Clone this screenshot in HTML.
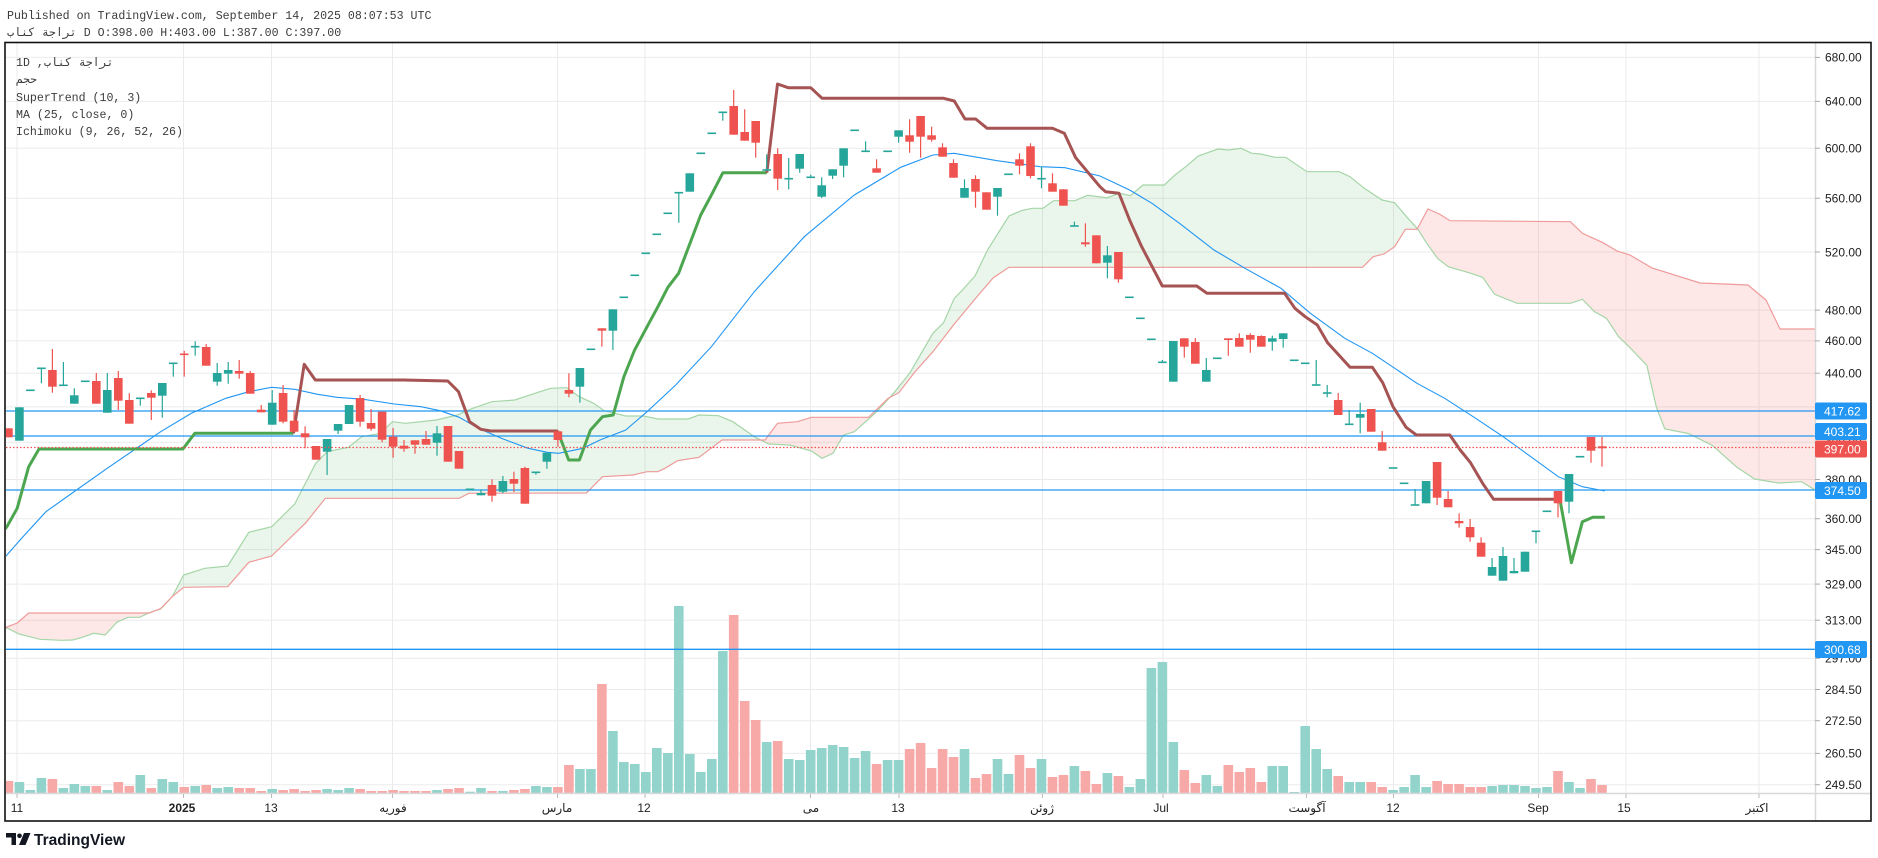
<!DOCTYPE html>
<html><head><meta charset="utf-8">
<style>
html,body{margin:0;padding:0;background:#fff;width:1878px;height:858px;overflow:hidden}
svg{display:block}
.mono{font-family:"Liberation Mono","DejaVu Sans Mono","DejaVu Sans",monospace;font-size:11.6px;fill:#3c3c3c}
.ax{font-family:"Liberation Sans","DejaVu Sans",sans-serif;font-size:12px;fill:#222}
.bx{font-family:"Liberation Sans","DejaVu Sans",sans-serif;font-size:12px;fill:#fff}
</style></head><body>
<svg id="s" width="1878" height="858" viewBox="0 0 1878 858" xmlns="http://www.w3.org/2000/svg">
<defs><clipPath id="pc"><rect x="6" y="43" width="1809" height="750"/></clipPath></defs>
<rect width="1878" height="858" fill="#fff"/>
<g id="grid" stroke="#ebebec" stroke-width="1"></g>
<g id="dyn" clip-path="url(#pc)"></g>
<!-- axes -->
<line x1="1815.5" y1="42" x2="1815.5" y2="821" stroke="#d9d9d9" stroke-width="1.5"/>
<line x1="5" y1="793.5" x2="1871" y2="793.5" stroke="#d9d9d9" stroke-width="1.5"/>
<g id="pax"></g>
<g class="ax" text-anchor="middle">
<text x="17" y="812">11</text>
<text x="182" y="812" font-weight="bold">2025</text>
<text x="271" y="812">13</text>
<text x="393" y="812">فوريه</text>
<text x="557" y="812">مارس</text>
<text x="644" y="812">12</text>
<text x="811" y="812">مى</text>
<text x="898" y="812">13</text>
<text x="1042" y="812">ژوئن</text>
<text x="1161" y="812">Jul</text>
<text x="1307" y="812">آگوست</text>
<text x="1393" y="812">12</text>
<text x="1538" y="812">Sep</text>
<text x="1624" y="812">15</text>
<text x="1757" y="812">اکتبر</text>
</g>
<g id="boxes">
<rect x="1815" y="402.5" width="52" height="17" rx="2" fill="#2196f3"/>
<text class="bx" x="1824" y="415.5">417.62</text>
<rect x="1815" y="423" width="52" height="17" rx="2" fill="#2196f3"/>
<text class="bx" x="1824" y="436">403.21</text>
<rect x="1815" y="440.5" width="52" height="17" rx="2" fill="#ef5350"/>
<text class="bx" x="1824" y="453.5">397.00</text>
<rect x="1815" y="482" width="52" height="17" rx="2" fill="#2196f3"/>
<text class="bx" x="1824" y="495">374.50</text>
<rect x="1815" y="641" width="52" height="17" rx="2" fill="#2196f3"/>
<text class="bx" x="1824" y="654">300.68</text>
</g>
<rect x="5" y="42.5" width="1866" height="778.5" fill="none" stroke="#111" stroke-width="1.6"/>
<text class="mono" x="7" y="19">Published on TradingView.com, September 14, 2025 08:07:53 UTC</text>
<text class="mono" x="7" y="36">تراجة كناب D O:398.00 H:403.00 L:387.00 C:397.00</text>
<text class="mono" x="16" y="66">1D ,تراجة كناب</text>
<text class="mono" x="16" y="83">حجم</text>
<text class="mono" x="16" y="101">SuperTrend (10, 3)</text>
<text class="mono" x="16" y="118">MA (25, close, 0)</text>
<text class="mono" x="16" y="135">Ichimoku (9, 26, 52, 26)</text>
<g fill="#131722">
<path d="M6 833 h10 v12 h-4.5 v-7.5 h-5.5z"/>
<circle cx="19.5" cy="835.8" r="2.3"/>
<path d="M24 833 h6.5 l-5 12 h-6.5z"/>
</g>
<text x="34" y="845" font-family="Liberation Sans, DejaVu Sans, sans-serif" font-size="15.5" font-weight="bold" fill="#131722">TradingView</text>
</svg>
<script>
(function(){
var ticks=[[680,57.4],[640,101.4],[600,148.2],[560,198.2],[520,252],[480,310.1],[460,340.9],[440,373.2],[420,406.9],[400,442.3],[380,479.5],[360,518.7],[345,549.6],[329,584.1],[313,620.2],[297,658.3],[284.5,689.5],[272.5,720.7],[260.5,753.4],[249.5,784.7]];
var vx=[17,183.5,271.5,392.5,557.5,645,810.5,899,1042.5,1163,1306.5,1393.5,1538.5,1626,1759];
var g='';
ticks.forEach(function(t){g+='<line x1="6" y1="'+t[1]+'" x2="1815" y2="'+t[1]+'"/>';});
vx.forEach(function(x){g+='<line x1="'+x+'" y1="43" x2="'+x+'" y2="793"/>';});
document.getElementById('grid').innerHTML=g;
var p='';
ticks.forEach(function(t){p+='<line x1="1815" y1="'+t[1]+'" x2="1820" y2="'+t[1]+'" stroke="#aaa"/>'+
 '<text class="ax" x="1825" y="'+(t[1]+4.3)+'">'+t[0].toFixed(2)+'</text>';});
vx.forEach(function(x){p+='<line x1="'+x+'" y1="794" x2="'+x+'" y2="798" stroke="#bbb"/>';});
document.getElementById('pax').innerHTML=p;

function X(i){return 8.4+10.99*i;}
function path(a){return 'M'+a.map(function(q){return q[0].toFixed(1)+' '+q[1].toFixed(1);}).join('L');}
function interp(a,x){if(x<=a[0][0])return a[0][1];for(var k=1;k<a.length;k++){if(x<=a[k][0]){var t=(x-a[k-1][0])/(a[k][0]-a[k-1][0]);return a[k-1][1]+t*(a[k][1]-a[k-1][1]);}}return a[a.length-1][1];}

var A=[[5,628],[7.7,628.3],[19.1,634],[40.2,639.3],[61.2,640.3],[72.7,640],[82.3,637.3],[93.8,633.3],[105.2,635],[116.7,622.3],[128.2,617.3],[139.7,617.3],[149.3,612.7],[160.7,609],[172.2,596.7],[183.7,575],[204.7,568.3],[227.7,566],[248.8,532.3],[271.7,526.7],[294.7,504],[315.7,463.3],[327.2,451.7],[348.3,447.3],[361.7,436.7],[380.8,433.3],[392.3,421.7],[405.7,423.3],[436.3,420],[457.3,415],[470.7,409],[491.8,401.7],[514.7,400],[540,391.7],[550.7,388.3],[566.8,387.7],[579.3,396.7],[593.6,403.3],[604.3,410.7],[625.7,416],[643.6,416],[657.9,419],[688.2,419],[699,415],[718.6,415.7],[732.9,421.7],[754.3,436.7],[768.6,444],[790,445],[811.4,451],[822.1,458.3],[832.9,453.3],[843.6,435],[854.3,431.7],[875.7,412.7],[893.6,393.3],[909.6,373.3],[932.9,333.3],[943.6,322.7],[954.3,298.3],[962.5,290],[975,276],[987.5,250],[1008.9,216],[1021.4,210.7],[1032,208.3],[1042.9,208.3],[1053.6,200.7],[1075,200.7],[1087.5,195.3],[1107,197.7],[1119.6,193.3],[1130.4,195.7],[1142.9,185],[1164.3,185],[1175,175],[1185.7,166.7],[1198.2,156],[1217.9,149],[1228.6,150],[1241,148.3],[1251.8,153.3],[1260.7,154],[1275,157.3],[1285.7,157.3],[1307,171.7],[1339.3,171.7],[1350,176.7],[1364.3,188.3],[1382.1,200],[1394.6,202.7],[1407.1,217.3],[1417.9,229.3],[1426.8,243.3],[1437.5,258.3],[1448.2,266.7],[1468.8,272.7],[1482.6,277.3],[1494.6,294.3],[1517,303.3],[1570.4,303.3],[1582.4,299.3],[1594.5,311.7],[1606.5,318.3],[1618.6,336.7],[1629,346.7],[1646.8,365.3],[1656.4,407.2],[1664.8,428.8],[1688.7,433.6],[1712.6,445.6],[1736.6,467],[1754.6,479],[1778.5,483],[1801.7,481.7],[1815,490]];
var B=[[5,627.7],[17.2,623],[28.7,613],[149.3,613],[160.7,608.5],[172.2,596.7],[183.7,587.3],[227.7,586.7],[248.8,562.3],[271.7,556],[306.2,522.3],[325.3,498.3],[459.2,498.3],[468.8,493.3],[586.4,493],[602.5,476.7],[632.9,475],[647.1,471.7],[657.9,471.7],[665,468.3],[677.5,460.7],[699,457.3],[713.2,446.7],[722.1,440],[765,440],[777.5,423.3],[797.1,421.7],[811.4,417.3],[868.6,417.3],[888.2,398.3],[898.9,392.7],[915,371.7],[932.9,351.7],[954.3,324],[975.7,298.3],[993,278],[1008.9,267.3],[1362.5,267.3],[1373.2,256.7],[1384,254],[1394.6,246.7],[1405.4,229.3],[1417.1,229.3],[1427.9,209],[1439.3,214],[1450,220.7],[1570.4,221.7],[1582.4,233.3],[1603,242.7],[1617,251],[1630,255],[1652,268],[1700,283],[1748,285],[1766,300],[1780,329],[1815,329]];

var s='';
// cloud fills
var gt=[],gb=[],rt=[],rb=[];
for(var x=5;x<=1815;x+=1){var a=interp(A,x),b=interp(B,x),m=Math.max(a,b);gt.push([x,a]);gb.push([x,m]);rt.push([x,b]);rb.push([x,m]);}
s+='<path d="'+path(gt.concat(gb.reverse()))+'Z" fill="#43a047" fill-opacity="0.11"/>';
s+='<path d="'+path(rt.concat(rb.reverse()))+'Z" fill="#f44336" fill-opacity="0.12"/>';
s+='<path d="'+path(A)+'" fill="none" stroke="#a5d6a7" stroke-width="1.2"/>';
s+='<path d="'+path(B)+'" fill="none" stroke="#ef9a9a" stroke-width="1.2"/>';

var C=[
['r',428.3,437.3,428.3,437.3],['g',407.3,440.7,407.3,440.7],['g',390.3,390.3,390.3,390.3],['g',368.3,368.3,368.3,383.3],['r',370,386.7,349,392.7],
['g',385.3,385.3,362,385.3],['g',395.3,403.7,388.3,403.7],['g',381.3,381.3,381.3,381.3],['r',381,403.7,373,403.7],['g',390,412.7,373,412.7],
['r',378,400.7,371,410],['r',400,423.7,393.3,423.7],['g',398.3,398.3,398.3,405.7],['r',393,397.7,390.3,420],['g',383,395.7,383,417.7],
['g',363.3,363.3,363.3,376.7],['r',354.3,355.7,350.7,376.7],['g',346.7,346.7,341.3,355.7],['r',347,365.7,344,365.7],['g',373,381.7,363,385.7],
['g',370,373.7,362,383.7],['r',371,373.7,360,378.7],['r',373,393.7,371,393.7],['r',409.7,412.3,405,412.3],['g',402.7,424.7,390,424.7],
['r',393,421.7,385,423.3],['r',420.7,431.7,410,431.7],['r',433.3,437.3,426.3,448.3],['r',446,459.7,446,459.7],['g',439,451.7,439,475],
['g',424,430.7,424,434],['g',405,424,405,424],['r',398,421.7,395,426.7],['r',423,428.7,409,430.7],['r',411.7,439.7,411.7,442.3],
['r',436.7,446.7,428,457.7],['r',445.7,448.7,440,451.7],['r',440.3,444.7,440.3,453.7],['r',439,444.7,431,444.7],['g',433.3,442.7,426,455.7],
['r',426,461.7,426,461.7],['r',451,468.7,451,468.7],['g',489.3,489.3,489.3,489.3],['g',493,495.3,489.3,495.3],['r',485,495.7,479.3,501.7],
['g',481,491.7,476,493.3],['r',479,483.7,471.7,492],['r',468,503.7,466.7,503.7],['g',472.3,472.3,472.3,474.7],['g',452.7,461.7,452.7,468.7],
['r',431.3,440,430,446.7],['r',390,393.7,373.3,397.3],['g',368,386.7,368,402.7],['g',349.3,349.3,349.3,349.3],['r',328.3,330.7,328.3,346.7],
['g',309.3,330.7,309.3,350],['g',297.3,297.3,297.3,297.3],['g',275.3,275.3,275.3,275.3],['g',253.3,253.3,253.3,253.3],['g',234.3,234.3,234.3,234.3],
['g',213.3,213.3,213.3,213.3],['g',192.7,192.7,192.7,222.7],['g',173.3,191.7,173.3,191.7],['g',153.3,153.3,153.3,153.3],['g',133.3,133.3,133.3,133.3],
['g',112.3,112.3,112.3,120.7],['r',106,134.7,90,134.7],['r',132,140.7,109.3,140.7],['r',121,142.7,121,157.7],['g',170,170,154.3,170],
['r',154,178.7,148.3,190],['g',178.7,178.7,158,189.3],['g',154,168.7,154,172.7],['g',177.3,177.3,174.7,177.3],['g',185.3,196.7,177.3,198],
['g',169.3,175.7,169.3,179],['g',148.3,165.7,148.3,177.3],['g',130.3,130.3,130.3,130.3],['g',151.3,151.3,141.3,151.3],['r',168.3,172.7,159.3,172.7],
['g',151.3,151.3,151.3,151.3],['g',130.3,136.7,130.3,142.7],['r',135.3,141.7,119.3,152.7],['r',116,136.7,116,157.7],['r',135.3,139.7,126.7,141.7],
['r',147.3,156.7,143.3,156.7],['r',163,177.7,159.3,177.7],['g',188,197.7,179.3,197.7],['r',179,191.7,175.3,207.7],['r',192.3,209.7,192.3,209.7],
['g',188,196.7,188,215.7],['g',174.3,174.3,174.3,174.3],['r',159.3,165.7,153.3,174.3],['r',146.3,176,143.3,178.3],['g',178.7,178.7,166.7,188.3],
['r',183.3,191.7,173.3,191.7],['r',189.3,205.7,189.3,205.7],['g',226,226,221.7,226],['r',242.3,244.3,223.3,246.7],['r',235.3,263.3,235.3,263.3],
['g',255.3,262.7,246,278.3],['r',252,279.3,252,282.7],['g',297.3,297.3,297.3,297.3],['g',318.3,318.3,318.3,318.3],['g',339.3,339.3,339.3,339.3],
['g',362.3,362.3,360,362.3],['g',341,381.7,341,381.7],['r',338.3,346.7,338.3,357.7],['r',342,363.7,338,363.7],['g',370,381.7,358,381.7],
['g',358.3,358.3,358.3,358.3],['r',338.3,340,338.3,355.7],['r',338,346.7,333.3,346.7],['r',335,339.7,333.3,352.7],['r',336,346.7,335.3,346.7],
['g',338.3,341.7,335.7,350.7],['g',333.3,339,333.3,347.7],['g',360.3,360.3,360.3,360.3],['g',363.3,363.3,363.3,363.3],['g',385,385,360,385],
['g',393,393,385,397.3],['r',400,415,393,415],['g',424.3,424.3,410,424.3],['g',414,417.7,402.7,433.3],['r',409,431.7,409,431.7],
['r',442.3,450.7,431,450.7],['g',468,468,468,468],['g',483.3,483.3,483.3,483.3],['g',505,505,489,505],['g',481,503.3,481,503.3],
['r',462,497.7,462,505],['r',499,507.3,491,507.3],['r',521,523.3,513.3,527.7],['r',527,537.3,519,541.7],['r',542.7,556.7,537.3,556.7],
['g',567,575.7,558,575.7],['g',556,580.7,547,580.7],['g',571,573.3,558,573.3],['g',551.7,571.7,551.7,571.7],['g',531.3,531.3,531.3,543.3],
['g',511.3,511.3,511.3,511.3],['r',491,503.3,491,517.3],['g',474,501.7,474,513.3],['g',456.7,456.7,456.7,456.7],['r',437,450.7,437,462.7],
['r',446.3,448.3,437,466.7]];
var V=[781,782,790,778,779,788,784,786,786,790,782,786,775,788,779,782,787,786,785,788,787,788,788,791,789,790,789,791,790,789,790,788,789,791,791,790,791,791,791,790,789,788,791.7,788,791,791,790,789,786,787,787,765,769,769,684,731,762,764,772,748,753,606,754,772,759,651,615,701,720,742,741,759,760,750,748,745,747,758,751,764,760,760,749,743,768,749,757,749,778,774,759,774,755,768,759,777,775,766,771,784,773,776,787,779,668,662,742,770,783,775,786,765,772,768,782,766,766,792,726,749,769,776,782,782,782,787,790,787,775,787,781,784,784,787,787,786,785,785,786,788,787,771,782,788,779,785];
// volume
for(var i=0;i<V.length;i++){var cx=X(i);var col=(C[i]&&C[i][0]=='r')?'#f7a9a7':'#92d3cc';
 s+='<rect x="'+(cx-4.8).toFixed(1)+'" y="'+V[i]+'" width="9.6" height="'+(793-V[i]).toFixed(1)+'" fill="'+col+'"/>';}
// horizontal lines
[411,436,490,649.3].forEach(function(y){s+='<line x1="6" y1="'+y+'" x2="1815" y2="'+y+'" stroke="#2196f3" stroke-width="1.3"/>';});
// MA
var MA=[[5,557],[6.9,555],[23,536.7],[45.9,511.7],[76.5,490],[107.2,468.3],[134,450],[160.7,431.7],[191.4,413.3],[225.8,398.3],[248.8,391.7],[271.7,387.3],[294.7,389.3],[317.6,394.3],[336.8,397.3],[363.6,399.3],[394.2,404],[421,406.7],[440.1,410.7],[459.2,417.3],[478.4,428.3],[501.3,438.3],[528.1,448.3],[547.3,452.3],[558.7,453.3],[582.9,448.3],[600,440],[625.7,430],[647.1,411.7],[675.7,385],[711.4,346.7],[754.3,291.7],[804.3,236.7],[854.3,195],[900.7,167.3],[932.9,155],[954.3,153.3],[997.1,160.7],[1040,166.7],[1065,167.7],[1100,176],[1129.6,190],[1152,203.3],[1179.5,223.3],[1214,250],[1245,268.3],[1281,288.3],[1310.4,313.3],[1344.8,338.3],[1372.4,353.3],[1417,383.3],[1444.7,398.3],[1475.7,418.3],[1503.2,436.7],[1530.8,456.7],[1558.3,476.7],[1582.4,486.7],[1604.8,491]];
s+='<path d="'+path(MA)+'" fill="none" stroke="#2196f3" stroke-width="1.1"/>';
// supertrend
var G1=[[5,529],[6.9,526.7],[17.2,508.3],[28.7,466.7],[39,449],[182.9,449],[194.8,433.3],[293.5,433.3]];
var R1=[[293.5,433.3],[304.2,364.3],[315.3,380],[403.7,380],[447.8,381],[458.5,391.7],[469.6,421.7],[480.7,429.3],[491,431],[557.6,431]];
var G2=[[557.6,431],[568.7,460],[579.4,460],[590.5,430],[602.5,416.7],[613.2,415],[623.9,376.7],[634.6,350],[647.1,326.7],[657.9,306.7],[667.9,287.3],[678.6,273.3],[690,243.3],[700.7,215],[711.4,195],[722.9,172.7],[766.8,172.7]];
var R2=[[766.8,172.7],[777.5,84],[788.2,87.7],[810.7,87.7],[822.1,98.3],[943.6,98.3],[954.3,101],[965,119],[975.7,119],[987.1,128.3],[1052.5,128.3],[1064.3,133.3],[1075.7,157.7],[1100,186.7],[1105.5,191.7],[1119,193.3],[1129.6,220],[1141.7,246.7],[1162.3,286],[1196.7,286],[1207,293.3],[1284.6,293.3],[1294.9,308.3],[1305.2,316.7],[1317.3,325],[1327.6,342.7],[1350,367.3],[1372.4,367.3],[1382.7,382.7],[1393,406.7],[1406.1,427.3],[1416.4,435],[1449.8,435],[1460.2,450],[1470.5,462.7],[1482.6,483.3],[1493.6,499.3],[1555.6,499.3]];
var G3=[[1557,499.5],[1560,500],[1571.4,562.7],[1582.4,521.7],[1592.8,517.3],[1604.8,517.3]];
[G1,G2,G3].forEach(function(a){s+='<path d="'+path(a)+'" fill="none" stroke="#4ca64f" stroke-width="3" stroke-linejoin="round"/>';});
[R1,R2].forEach(function(a){s+='<path d="'+path(a)+'" fill="none" stroke="#a65353" stroke-width="3" stroke-linejoin="round"/>';});
// candles
for(var i=0;i<C.length;i++){var c=C[i],cx=X(i),col=c[0]=='r'?'#ef5350':'#26a69a';
 if(c[4]-c[3]>0.5)s+='<line x1="'+cx.toFixed(1)+'" y1="'+c[3]+'" x2="'+cx.toFixed(1)+'" y2="'+c[4]+'" stroke="'+col+'" stroke-width="1.2"/>';
 var h=Math.max(c[2]-c[1],1.6);var y=c[2]-c[1]<1.6?c[1]-0.8:c[1];
 s+='<rect x="'+(cx-4.3).toFixed(1)+'" y="'+y.toFixed(1)+'" width="8.6" height="'+h.toFixed(1)+'" fill="'+col+'"/>';}
// price line
s+='<line x1="6" y1="447.5" x2="1815" y2="447.5" stroke="#ef5350" stroke-width="1.2" stroke-dasharray="1.5 2"/>';
document.getElementById('dyn').innerHTML=s;
})();
</script>
</body></html>
